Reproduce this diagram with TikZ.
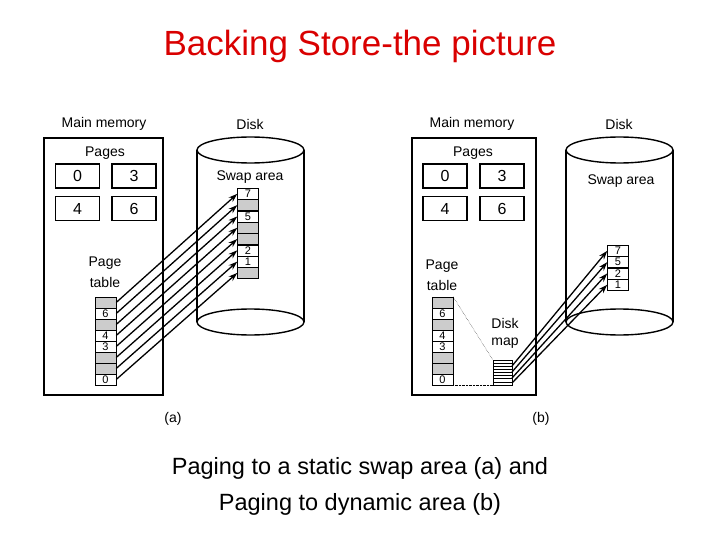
\documentclass[tikz,border=0pt]{standalone}
\usepackage{fontspec}
\setmainfont{Liberation Sans}
\usetikzlibrary{arrows.meta}
\begin{document}
\begin{tikzpicture}[x=1pt,y=-1pt,
        lbl/.style={font=\fontsize{14}{15}\selectfont, inner sep=0pt},
        page/.style={draw, line width=1.4pt, minimum width=44pt, minimum height=24pt, font=\fontsize{16}{17}\selectfont},
        cell/.style={draw, minimum width=21pt, minimum height=11pt, inner sep=0pt, font=\fontsize{11}{11}\selectfont},
        empty/.style={cell, fill=gray!40},
        link/.style={line width=1.3pt, -{Stealth[length=9pt,width=6pt]}},
        dots/.style={densely dotted}
    ]
        \useasboundingbox (0,0) rectangle (720,540);

        % Titel und Unterschrift
        \node[text=red!85!black, font=\fontsize{35}{40}\selectfont] (title) at (360,46) {Backing Store-the picture};
        \node[font=\fontsize{23.5}{27}\selectfont] (cap1) at (360,468) {Paging to a static swap area (a) and};
        \node[font=\fontsize{23.5}{27}\selectfont] (cap2) at (360,504) {Paging to dynamic area (b)};

        % (a) Hauptspeicher
        \node[lbl] (mmA) at (104,124) {Main memory};
        \draw[line width=1.4pt] (44,138) rectangle (163,395);
        \node[lbl] (pgA) at (105,153) {Pages};
        \node[page] (a0) at (77.5,176) {0};
        \node[page] (a3) at (134,176) {3};
        \node[page] (a4) at (77.5,208.5) {4};
        \node[page] (a6) at (134,208.5) {6};
        \node[lbl] (ptA) at (105,263) {Page};
        \node[lbl] (ptA2) at (105,282) {table};
        \foreach \v [count=\i] in {,6,,4,3,,,0} {
            \ifx\v\empty
                \node[empty] (ta\i) at (105.5,291.5+11*\i) {};
            \else
                \node[cell] (ta\i) at (105.5,291.5+11*\i) {\v};
            \fi
        }

        % (a) Platte
        \node[lbl] (dkA) at (250,124) {Disk};
        \draw[line width=1.4pt] (197,150) -- (197,322) (304,150) -- (304,322);
        \draw[line width=1.4pt, fill=white] (250.5,150) ellipse (53.5 and 13);
        \draw[line width=1.4pt] (250.5,322) ellipse (53.5 and 13);
        \node[lbl] (swA) at (250,177) {Swap area};
        \foreach \v [count=\i] in {7,,5,,,2,1,} {
            \ifx\v\empty
                \node[empty] (sa\i) at (248,182.5+11.3*\i) {};
            \else
                \node[cell] (sa\i) at (248,182.5+11.3*\i) {\v};
            \fi
        }
        \foreach \i in {1,...,8}
            \draw[link] (ta\i.east) -- (sa\i.west);
        \node[lbl] (capA) at (173,419) {(a)};

        % (b) Hauptspeicher
        \node[lbl] (mmB) at (472,124) {Main memory};
        \draw[line width=1.4pt] (412,138) rectangle (536,395);
        \node[lbl] (pgB) at (473,153) {Pages};
        \node[page] (b0) at (445,176) {0};
        \node[page] (b3) at (502,176) {3};
        \node[page] (b4) at (445,208.5) {4};
        \node[page] (b6) at (502,208.5) {6};
        \node[lbl] (ptB) at (442,266) {Page};
        \node[lbl] (ptB2) at (442,285) {table};
        \foreach \v [count=\i] in {,6,,4,3,,,0} {
            \ifx\v\empty
                \node[empty] (tb\i) at (442.5,291.5+11*\i) {};
            \else
                \node[cell] (tb\i) at (442.5,291.5+11*\i) {\v};
            \fi
        }
        \node[lbl] (dmB) at (505,323) {Disk};
        \node[lbl] (dmB2) at (505,343) {map};
        \node[draw, minimum width=19pt, minimum height=25pt, inner sep=0pt] (map) at (502.5,372.5) {};
        \foreach \k in {1,...,7}
            \draw (493,360+3.1*\k) -- (512,360+3.1*\k);
        \draw[dots] (tb1.north east) -- (map.north west);
        \draw[dots] (tb8.south east) -- (map.south west);

        % (b) Platte
        \node[lbl] (dkB) at (619,124) {Disk};
        \draw[line width=1.4pt] (566,150) -- (566,322) (673,150) -- (673,322);
        \draw[line width=1.4pt, fill=white] (619.5,150) ellipse (53.5 and 13);
        \draw[line width=1.4pt] (619.5,322) ellipse (53.5 and 13);
        \node[lbl] (swB) at (621,181) {Swap area};
        \foreach \v [count=\i] in {7,5,2,1} {
            \node[cell] (sb\i) at (618,239.5+11.3*\i) {\v};
        }
        \foreach \i/\y in {1/366,2/372,3/378,4/383} {
            \coordinate (m\i) at (512,\y);
            \draw[link] (m\i) -- (sb\i.west);
        }
        \node[lbl] (capB) at (541,419) {(b)};
    \end{tikzpicture}
\end{document}
